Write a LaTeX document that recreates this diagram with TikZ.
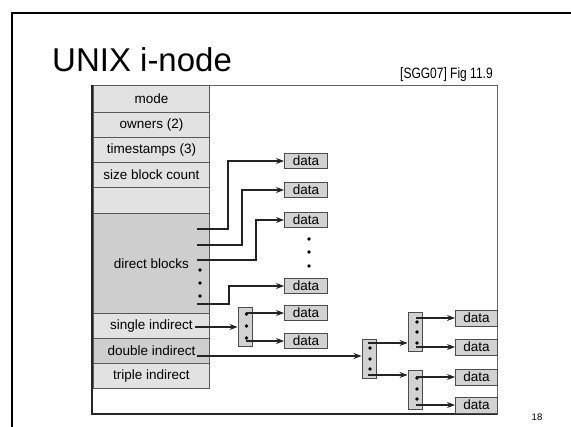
\documentclass[tikz,border=0pt]{standalone}
\usepackage{fontspec}
\setmainfont{Liberation Sans}
\newfontfamily\narrowfont[FakeStretch=0.8]{Liberation Sans}
\usetikzlibrary{arrows.meta}
\definecolor{rowlight}{RGB}{226,226,226}
\definecolor{rowdark}{RGB}{206,206,206}
\definecolor{boxfill}{RGB}{210,210,210}
\definecolor{linecol}{RGB}{35,35,35}
\tikzset{
  rowbox/.style={draw=black!65, fill=rowlight, line width=0.9pt, minimum width=116pt, inner sep=0pt, anchor=north west, font=\fontsize{13.5}{13.5}\selectfont},
  databox/.style={draw=black!70, fill=boxfill, line width=0.9pt, minimum width=43pt, minimum height=15pt, inner sep=0pt, anchor=west, font=\fontsize{13.5}{13.5}\selectfont},
  indbox/.style={draw=black!70, fill=boxfill, line width=0.9pt, minimum width=14pt, minimum height=39pt, inner sep=0pt},
  ptr/.style={draw=linecol, line width=1.1pt, -{Stealth[length=8pt,width=6pt]}}
}
\begin{document}
\begin{tikzpicture}[x=1pt,y=-1pt]
\useasboundingbox (0,0) rectangle (571,427);
% slide frame
\draw[black, line width=1.5pt] (12,427) -- (12,13) -- (571,13);
% title
\node[anchor=base west, inner sep=0pt, font=\fontsize{33}{33}\selectfont] (title) at (52,72) {UNIX i-node};
\node[anchor=base west, inner sep=0pt, font=\narrowfont\fontsize{15}{15}\selectfont] (ref) at (400,79) {[SGG07] Fig 11.9};
\node[inner sep=0pt, font=\fontsize{9.5}{9.5}\selectfont] (pg) at (537,417) {18};
% figure frame
\draw[black!60, line width=0.9pt] (92,85) rectangle (497,414);
\draw[black!85, line width=1.8pt] (92,85) -- (92,414) -- (497,414);
% rows
\node[rowbox, minimum height=27pt] (mode) at (93,85) {mode};
\node[rowbox, minimum height=25pt] (owners) at (93,112) {owners (2)};
\node[rowbox, minimum height=25pt] (times) at (93,137) {timestamps (3)};
\node[rowbox, minimum height=25pt] (size) at (93,162) {size block count};
\node[rowbox, minimum height=26pt] (empty) at (93,187) {};
\node[rowbox, minimum height=100pt, fill=rowdark] (direct) at (93,213) {direct blocks};
\node[rowbox, minimum height=25pt] (single) at (93,313) {single indirect};
\node[rowbox, minimum height=25pt, fill=rowdark] (double) at (93,338) {double indirect};
\node[rowbox, minimum height=25pt] (triple) at (93,363) {triple indirect};
% direct block pointers
\coordinate (p1) at (197,229);
\coordinate (p2) at (197,245);
\coordinate (p3) at (197,260);
\coordinate (p4) at (197,304);
\fill (200,270) circle[radius=1.9pt] (200,283) circle[radius=1.9pt] (200,296) circle[radius=1.9pt];
% data boxes
\node[databox] (d1) at (284,161) {data};
\node[databox] (d2) at (284,190) {data};
\node[databox] (d3) at (284,220) {data};
\node[databox] (d4) at (284,286) {data};
\node[databox] (d5) at (284,313) {data};
\node[databox] (d6) at (284,341) {data};
\fill (309,239) circle[radius=1.9pt] (309,252) circle[radius=1.9pt] (309,266) circle[radius=1.9pt];
\draw[ptr] (p1) -- ++(31,0) |- (d1);
\draw[ptr] (p2) -- ++(45,0) |- (d2);
\draw[ptr] (p3) -- ++(59,0) |- (d3);
\draw[ptr] (p4) -- ++(32,0) |- (d4);
% single indirect
\node[indbox] (s1) at (245,326.5) {};
\fill (246.5,314) circle[radius=1.9pt] (246.5,326) circle[radius=1.9pt] (246.5,338) circle[radius=1.9pt];
\coordinate (si) at (195,327);
\draw[ptr] (si) -- (si -| s1.west);
\coordinate (s1a) at (246,313);
\coordinate (s1b) at (246,341);
\draw[ptr] (s1a) -- (s1a -| d5.west);
\draw[ptr] (s1b) -- (s1b -| d6.west);
% double indirect
\node[indbox] (a1) at (369,358.5) {};
\fill (370,348) circle[radius=1.9pt] (370,359) circle[radius=1.9pt] (370,369) circle[radius=1.9pt];
\node[indbox] (b1) at (415,331.5) {};
\fill (417,322) circle[radius=1.9pt] (417,332) circle[radius=1.9pt] (417,343) circle[radius=1.9pt];
\node[indbox] (c1) at (415,389.5) {};
\fill (417,378) circle[radius=1.9pt] (417,389) circle[radius=1.9pt] (417,399) circle[radius=1.9pt];
\coordinate (di) at (197,356);
\draw[ptr] (di) -- (di -| a1.west);
\coordinate (a1a) at (368,343);
\coordinate (a1b) at (368,375);
\draw[ptr] (a1a) -- (a1a -| b1.west);
\draw[ptr] (a1b) -- (a1b -| c1.west);
% right data boxes
\node[databox, minimum width=42pt, minimum height=16pt] (e1) at (455,318) {data};
\node[databox, minimum width=42pt, minimum height=16pt] (e2) at (455,347) {data};
\node[databox, minimum width=42pt, minimum height=16pt] (e3) at (455,377) {data};
\node[databox, minimum width=42pt, minimum height=16pt] (e4) at (455,405) {data};
\coordinate (b1a) at (416,318);
\coordinate (b1b) at (416,347);
\coordinate (c1a) at (416,377);
\coordinate (c1b) at (416,405);
\draw[ptr] (b1a) -- (b1a -| e1.west);
\draw[ptr] (b1b) -- (b1b -| e2.west);
\draw[ptr] (c1a) -- (c1a -| e3.west);
\draw[ptr] (c1b) -- (c1b -| e4.west);
\end{tikzpicture}
\end{document}
